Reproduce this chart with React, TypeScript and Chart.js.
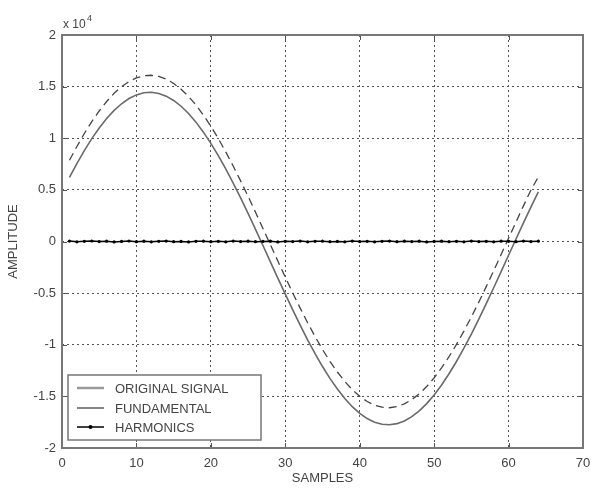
import React, { useEffect, useRef } from 'react';
import { Chart, registerables } from 'chart.js';
Chart.register(...registerables);

const samples = [
  1, 2, 3, 4, 5, 6, 7, 8, 9, 10, 11, 12, 13, 14, 15, 16,
  17, 18, 19, 20, 21, 22, 23, 24, 25, 26, 27, 28, 29, 30, 31, 32,
  33, 34, 35, 36, 37, 38, 39, 40, 41, 42, 43, 44, 45, 46, 47, 48,
  49, 50, 51, 52, 53, 54, 55, 56, 57, 58, 59, 60, 61, 62, 63, 64,
];

const originalSignal = [
  6200, 7550, 8810, 9960, 10990, 11910, 12700, 13340, 13850, 14200, 14400, 14450, 14340, 14080, 13660, 13100,
  12400, 11560, 10590, 9510, 8320, 7030, 5660, 4220, 2720, 1180, -390, -1970, -3540, -5100, -6630, -8100,
  -9520, -10850, -12110, -13260, -14290, -15210, -16000, -16640, -17150, -17500, -17700, -17750, -17640, -17380, -16960, -16400,
  -15700, -14860, -13890, -12810, -11620, -10330, -8960, -7520, -6020, -4480, -2910, -1330, 240, 1800, 3330, 4800,
];

const fundamental = [
  7870, 9200, 10460, 11610, 12640, 13560, 14350, 14990, 15500, 15850, 16050, 16100, 15990, 15730, 15310, 14750,
  14050, 13210, 12240, 11160, 9970, 8680, 7310, 5870, 4370, 2830, 1260, -320, -1890, -3450, -4980, -6450,
  -7870, -9200, -10460, -11610, -12640, -13560, -14350, -14990, -15500, -15850, -16050, -16100, -15990, -15730, -15310, -14750,
  -14050, -13210, -12240, -11160, -9970, -8680, -7310, -5870, -4370, -2830, -1260, 320, 1890, 3450, 4980, 6250,
];

const harmonics = [
  40, -30, 20, 50, -10, 30, -40, 10, 50, -20, 30, -30, 20, 40, -20, 10,
  -40, 20, 30, -20, 20, -30, 40, -10, 30, -20, 10, 30, -40, 20, -10, 40,
  -30, 20, 30, -20, 10, -30, 40, -10, 20, -30, 20, 40, -20, 30, -10, 30,
  -40, 10, 30, -20, 20, -30, 40, -10, 20, -30, 30, 20, -20, 40, -10, 30,
];

const xTicks = [0, 10, 20, 30, 40, 50, 60, 70];
const yTicks = [-20000, -15000, -10000, -5000, 0, 5000, 10000, 15000, 20000];

const legendLabels = ['ORIGINAL SIGNAL', 'FUNDAMENTAL', 'HARMONICS'];

const FONT = "'Liberation Sans', Arial, sans-serif";
const TEXT = '#444';

function toPoints(ys: number[]) {
  return samples.map((s, i) => ({ x: s, y: ys[i] }));
}

const framePlugin = {
  id: 'frame',
  afterDraw(chart: any) {
    const { ctx, chartArea } = chart;
    const { left, right, top, bottom } = chartArea;
    const xs = chart.scales.x;
    const ys = chart.scales.y;
    ctx.save();
    ctx.strokeStyle = '#555';
    ctx.lineWidth = 1;
    ctx.setLineDash([]);
    ctx.beginPath();
    xTicks.forEach((t) => {
      const px = Math.round(xs.getPixelForValue(t)) + 0.5;
      ctx.moveTo(px, bottom);
      ctx.lineTo(px, bottom - 5);
      ctx.moveTo(px, top);
      ctx.lineTo(px, top + 5);
    });
    yTicks.forEach((t) => {
      const py = Math.round(ys.getPixelForValue(t)) + 0.5;
      ctx.moveTo(left, py);
      ctx.lineTo(left + 5, py);
      ctx.moveTo(right, py);
      ctx.lineTo(right - 5, py);
    });
    ctx.stroke();
    ctx.strokeStyle = '#777';
    ctx.lineWidth = 2;
    ctx.strokeRect(left, top, right - left, bottom - top);

    ctx.fillStyle = TEXT;
    ctx.textBaseline = 'alphabetic';
    ctx.textAlign = 'left';
    ctx.font = `12px ${FONT}`;
    ctx.fillText('x 10', 63, 28);
    ctx.font = `9px ${FONT}`;
    ctx.fillText('4', 87, 21);

    const bx = 68, by = 375, bw = 193, bh = 65;
    ctx.fillStyle = '#fff';
    ctx.fillRect(bx, by, bw, bh);
    ctx.strokeStyle = '#777';
    ctx.lineWidth = 1.5;
    ctx.strokeRect(bx, by, bw, bh);
    const rows = [388, 408, 427];
    const ds = chart.data.datasets;
    legendLabels.forEach((label, i) => {
      const d = ds.find((q: any) => q.label === label);
      const y = rows[i];
      ctx.save();
      ctx.strokeStyle = i === 0 ? '#999' : d.borderColor;
      ctx.lineWidth = i === 0 ? 2.5 : d.borderWidth;
      ctx.setLineDash([]);
      ctx.beginPath();
      ctx.moveTo(77, y);
      ctx.lineTo(104, y);
      ctx.stroke();
      if (i === 2) {
        ctx.fillStyle = '#000';
        ctx.beginPath();
        ctx.arc(90.5, y, 2, 0, Math.PI * 2);
        ctx.fill();
      }
      ctx.restore();
      ctx.fillStyle = TEXT;
      ctx.font = `13px ${FONT}`;
      ctx.textBaseline = 'middle';
      ctx.textAlign = 'left';
      ctx.fillText(label, 115, y + 1);
    });
    ctx.restore();
  },
};

export default function App() {
  const ref = useRef<HTMLCanvasElement | null>(null);
  useEffect(() => {
    if (!ref.current) return;
    const chart = new Chart(ref.current, {
      type: 'line',
      data: {
        datasets: [
          {
            label: 'HARMONICS',
            data: toPoints(harmonics),
            borderColor: '#000',
            backgroundColor: '#000',
            borderWidth: 1.5,
            pointRadius: 1.6,
            pointBackgroundColor: '#000',
            pointBorderWidth: 0,
            order: 0,
          },
          {
            label: 'ORIGINAL SIGNAL',
            data: toPoints(originalSignal),
            borderColor: '#6a6a6a',
            borderWidth: 1.6,
            pointRadius: 0,
            order: 1,
          },
          {
            label: 'FUNDAMENTAL',
            data: toPoints(fundamental),
            borderColor: '#444',
            borderWidth: 1.3,
            borderDash: [8, 5],
            pointRadius: 0,
            order: 2,
          },
        ],
      },
      options: {
        animation: false,
        responsive: false,
        maintainAspectRatio: false,
        events: [],
        layout: { padding: { left: 0, top: 35, right: 9, bottom: 0 } },
        plugins: { legend: { display: false }, tooltip: { enabled: false } },
        scales: {
          x: {
            type: 'linear',
            min: 0,
            max: 70,
            afterFit: (s: any) => { s.height = 46; s.paddingLeft = 0; s.paddingRight = 0; },
            afterBuildTicks: (s: any) => { s.ticks = xTicks.map((v) => ({ value: v })); },
            ticks: { color: TEXT, font: { family: FONT, size: 13 }, padding: 8, maxRotation: 0 },
            grid: { color: '#555', lineWidth: 1, drawTicks: false },
            border: { display: false, dash: [2, 3] },
            title: { display: true, text: 'SAMPLES', color: TEXT, font: { family: FONT, size: 13 }, padding: { top: 8, bottom: 8 } },
          },
          y: {
            type: 'linear',
            min: -20000,
            max: 20000,
            afterFit: (s: any) => { s.width = 62; s.paddingTop = 0; s.paddingBottom = 0; },
            afterBuildTicks: (s: any) => { s.ticks = yTicks.map((v) => ({ value: v })); },
            ticks: {
              color: TEXT,
              font: { family: FONT, size: 13 },
              padding: 6,
              callback: (v: any) => String(Number(v) / 10000),
            },
            grid: { color: '#555', lineWidth: 1, drawTicks: false },
            border: { display: false, dash: [2, 3] },
            title: { display: true, text: 'AMPLITUDE', color: TEXT, font: { family: FONT, size: 13 }, padding: { top: 6, bottom: 6 } },
          },
        },
      },
      plugins: [framePlugin],
    });
    return () => chart.destroy();
  }, []);
  return (
    <div style={{ position: 'absolute', left: 0, top: 0, width: 592, height: 494, background: '#fff' }}>
      <canvas ref={ref} width={592} height={494} style={{ width: 592, height: 494, display: 'block' }} />
    </div>
  );
}
